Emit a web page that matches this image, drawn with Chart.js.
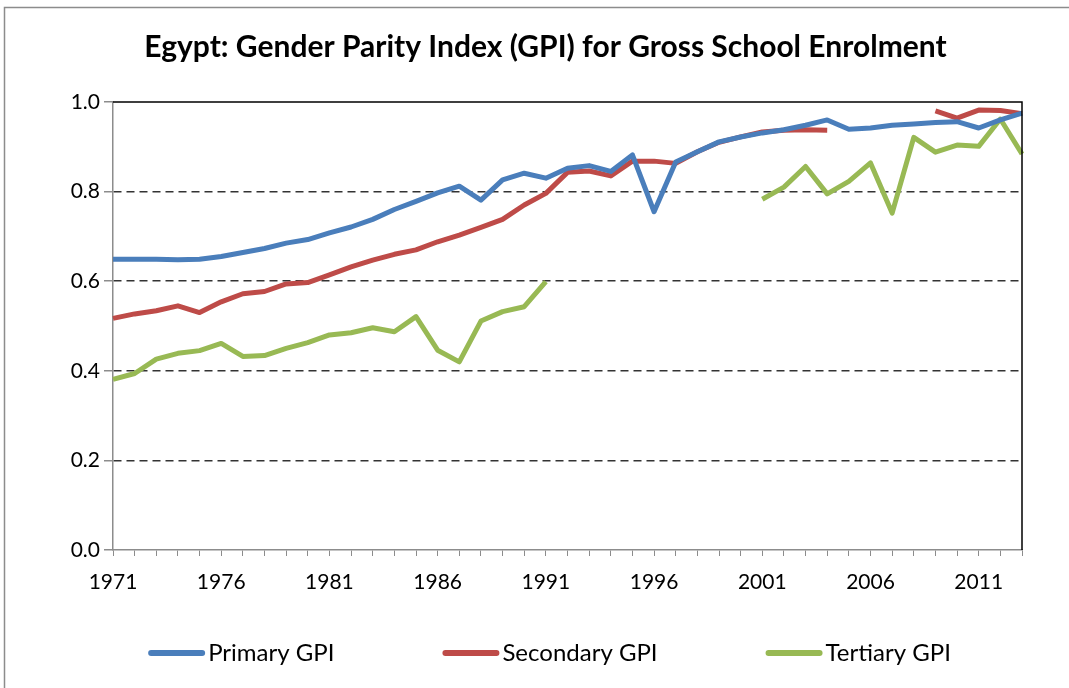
<!DOCTYPE html>
<html>
<head>
<meta charset="utf-8">
<script src="https://cdn.jsdelivr.net/npm/chart.js@4/dist/chart.umd.min.js"></script>
<style>
  html, body { margin: 0; padding: 0; background: #fff; }
  #wrap { position: relative; width: 1069px; height: 688px; }
</style>
</head>
<body>
<div id="wrap"><canvas id="gpiChart" width="1069" height="688"></canvas></div>
<script>
// ===============================
// Data
// ===============================
const years = [];
for (let y = 1971; y <= 2013; y++) years.push(String(y));

const primaryGPI = [
  0.649, 0.649, 0.649, 0.648, 0.649, 0.655, 0.664, 0.673, 0.685, 0.693,
  0.708, 0.721, 0.738, 0.760, 0.778, 0.797, 0.812, 0.781, 0.826, 0.841,
  0.830, 0.852, 0.858, 0.845, 0.882, 0.755, 0.866, 0.889, 0.911, 0.922,
  0.931, 0.938, 0.948, 0.960, 0.939, 0.942, 0.948, 0.951, 0.954, 0.956,
  0.942, 0.960, 0.975
];

const secondaryGPI = [
  0.517, 0.527, 0.534, 0.545, 0.530, 0.554, 0.572, 0.577, 0.594, 0.597,
  0.614, 0.632, 0.647, 0.660, 0.670, 0.688, 0.703, 0.720, 0.738, 0.770,
  0.796, 0.843, 0.846, 0.835, 0.868, 0.868, 0.863, 0.889, 0.910, 0.922,
  0.933, 0.937, 0.938, 0.937, null, null, null, null, 0.980, 0.964,
  0.982, 0.981, 0.974
];

const tertiaryGPI = [
  0.381, 0.394, 0.426, 0.439, 0.445, 0.461, 0.432, 0.434, 0.450, 0.463,
  0.480, 0.485, 0.496, 0.487, 0.521, 0.446, 0.420, 0.511, 0.532, 0.543,
  0.599, null, null, null, null, null, null, null, null, null,
  0.783, 0.810, 0.856, 0.795, 0.823, 0.864, 0.752, 0.921, 0.888, 0.904,
  0.901, 0.962, 0.884
];

const yTicks = [0, 0.2, 0.4, 0.6, 0.8, 1.0];

// ===============================
// Plugins
// ===============================
// outer picture frame + plot area border (top & right)
const frames = {
  id: "frames",
  beforeDraw(chart) {
    const c = chart.ctx;
    c.save();
    c.strokeStyle = "#8c8c8c";
    c.lineWidth = 1.5;
    c.beginPath();
    c.moveTo(4.5, chart.height);
    c.lineTo(4.5, 7.5);
    c.lineTo(chart.width, 7.5);
    c.stroke();
    c.restore();
  },
  afterDatasetsDraw(chart) {
    const a = chart.chartArea;
    const c = chart.ctx;
    c.save();
    c.strokeStyle = "#000";
    c.lineWidth = 1.5;
    c.beginPath();
    c.moveTo(a.left, a.top);
    c.lineTo(a.right, a.top);
    c.lineTo(a.right, a.bottom);
    c.stroke();
    c.restore();
  }
};

// Excel-like legend: wide line swatch, text right next to it, big gaps
const wideLegend = {
  id: "wideLegend",
  afterDraw(chart) {
    const c = chart.ctx;
    const sw = 57, gapText = 3, gapItem = 108, y = 653;
    c.save();
    c.font = "24px Lato";
    c.textBaseline = "middle";
    const items = chart.data.datasets.map(d => ({
      text: d.label, color: d.borderColor, w: sw + gapText + c.measureText(d.label).width
    }));
    const total = items.reduce((s, it) => s + it.w, 0) + gapItem * (items.length - 1);
    let x = 549.5 - total / 2;
    items.forEach(it => {
      c.strokeStyle = it.color;
      c.lineWidth = 6;
      c.lineCap = "round";
      c.beginPath();
      c.moveTo(x + 3, y);
      c.lineTo(x + sw - 3, y);
      c.stroke();
      c.fillStyle = "#000";
      c.fillText(it.text, x + sw + gapText, y);
      x += it.w + gapItem;
    });
    c.restore();
  }
};

// ===============================
// Chart
// ===============================
const ctx = document.getElementById("gpiChart");
new Chart(ctx, {
  type: "line",
  data: {
    labels: years,
    datasets: [
      { label: "Primary GPI", data: primaryGPI, borderColor: "#4a7ebb" },
      { label: "Secondary GPI", data: secondaryGPI, borderColor: "#be4b48" },
      { label: "Tertiary GPI", data: tertiaryGPI, borderColor: "#98b954" }
    ].map(d => Object.assign(d, {
      backgroundColor: d.borderColor,
      borderWidth: 5,
      pointRadius: 0,
      tension: 0,
      spanGaps: false,
      fill: false,
      borderJoinStyle: "round"
    }))
  },
  options: {
    responsive: false,
    animation: false,
    layout: { padding: { left: 69, right: 47, top: 0, bottom: 55 } },
    plugins: {
      title: {
        display: true,
        text: "Egypt: Gender Parity Index (GPI) for Gross School Enrolment",
        color: "#000",
        font: { family: "Lato", size: 30, weight: "bold" },
        padding: { top: 29, bottom: 37 }
      },
      legend: { display: false },
      tooltip: { enabled: false }
    },
    scales: {
      x: {
        offset: false,
        afterFit: s => { s.height = 83; },
        border: { color: "#8c8c8c", width: 1.5 },
        grid: {
          drawOnChartArea: false,
          drawTicks: true,
          tickLength: 6,
          color: "#8c8c8c",
          offset: false
        },
        ticks: {
          autoSkip: false,
          maxRotation: 0,
          color: "#000",
          padding: 14,
          font: { family: "Lato", size: 21 },
          callback: function (v) {
            const lbl = this.getLabelForValue(v);
            return (Number(lbl) - 1971) % 5 === 0 ? lbl : "";
          }
        }
      },
      y: {
        min: 0,
        max: 1,
        afterFit: s => { s.width = 44; },
        afterBuildTicks: s => { s.ticks = yTicks.map(v => ({ value: v })); },
        border: { color: "#8c8c8c", width: 1.5, dash: [8, 5] },
        grid: {
          color: c => (c.tick && (c.tick.value === 0 || c.tick.value === 1)) ? "rgba(0,0,0,0)" : "#333",
          tickColor: "#8c8c8c",
          tickBorderDash: [],
          tickLength: 9,
          lineWidth: 1.5
        },
        ticks: {
          color: "#000",
          padding: 4,
          font: { family: "Lato", size: 21 },
          callback: v => v.toFixed(1)
        }
      }
    }
  },
  plugins: [frames, wideLegend]
});
</script>
</body>
</html>
